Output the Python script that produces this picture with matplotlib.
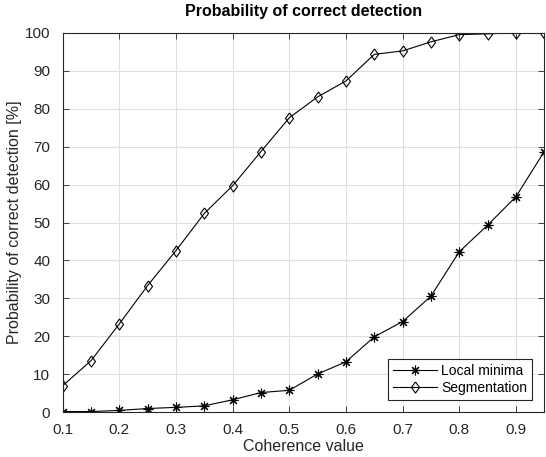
import matplotlib
matplotlib.use("Agg")
import matplotlib.pyplot as plt

# data
coherence = [0.10, 0.15, 0.20, 0.25, 0.30, 0.35, 0.40, 0.45, 0.50,
             0.55, 0.60, 0.65, 0.70, 0.75, 0.80, 0.85, 0.90, 0.95]
local_minima = [0.2, 0.2, 0.5, 1.0, 1.3, 1.7, 3.3, 5.2, 5.8,
                10.1, 13.3, 19.9, 23.9, 30.6, 42.3, 49.3, 56.8, 68.7]
segmentation = [7.0, 13.6, 23.3, 33.4, 42.6, 52.4, 59.7, 68.7, 77.6,
                83.1, 87.3, 94.3, 95.2, 97.6, 99.5, 99.7, 100.0, 100.0]

xticks = [0.1, 0.2, 0.3, 0.4, 0.5, 0.6, 0.7, 0.8, 0.9]
yticks = list(range(0, 101, 10))

plt.rcParams['font.family'] = ['Liberation Sans', 'DejaVu Sans']
axis_col = '#262626'

# matlab style diamond, a bit wider than mpl 'd'
diamond = [(0, 1), (0.72, 0), (0, -1), (-0.72, 0), (0, 1)]

fig = plt.figure(figsize=(5.46, 4.57), dpi=100)
ax = fig.add_axes([0.1148, 0.0978, 0.882, 0.8306])

ax.plot(coherence, local_minima, color='black', linewidth=0.8,
        marker=(8, 2, 0), markersize=7, markeredgewidth=0.8,
        label='Local minima')
ax.plot(coherence, segmentation, color='black', linewidth=0.8,
        marker=diamond, markersize=8, markerfacecolor='none',
        markeredgewidth=0.8, label='Segmentation')

ax.set_xlim(0.1, 0.95)
ax.set_ylim(0, 100)
ax.set_xticks(xticks)
ax.set_yticks(yticks)
ax.set_xticklabels([f"{t:g}" for t in xticks])
ax.grid(True, color='#dfdfdf', linewidth=0.8)
ax.set_axisbelow(True)
ax.tick_params(direction='in', length=4, width=0.6, colors=axis_col,
               labelsize=11, top=True, right=True)
ax.tick_params(axis='x', pad=8)
ax.tick_params(axis='y', pad=9)
for s in ax.spines.values():
    s.set_color(axis_col)
    s.set_linewidth(0.8)

ax.set_xlabel('Coherence value', fontsize=11.5, color=axis_col, labelpad=1)
ax.set_ylabel('Probability of correct detection [%]', fontsize=11.5,
              color=axis_col, labelpad=2)
ax.set_title('Probability of correct detection', fontsize=11.5,
             fontweight='bold', pad=12)

leg = ax.legend(loc='lower right', fontsize=10, handlelength=3.2,
                fancybox=False, framealpha=1, edgecolor=axis_col,
                borderpad=0.35, labelspacing=0.25, handletextpad=0.3,
                borderaxespad=0, bbox_to_anchor=(0.975, 0.032))
leg.get_frame().set_linewidth(0.8)

fig.savefig('out.png', dpi=100)
